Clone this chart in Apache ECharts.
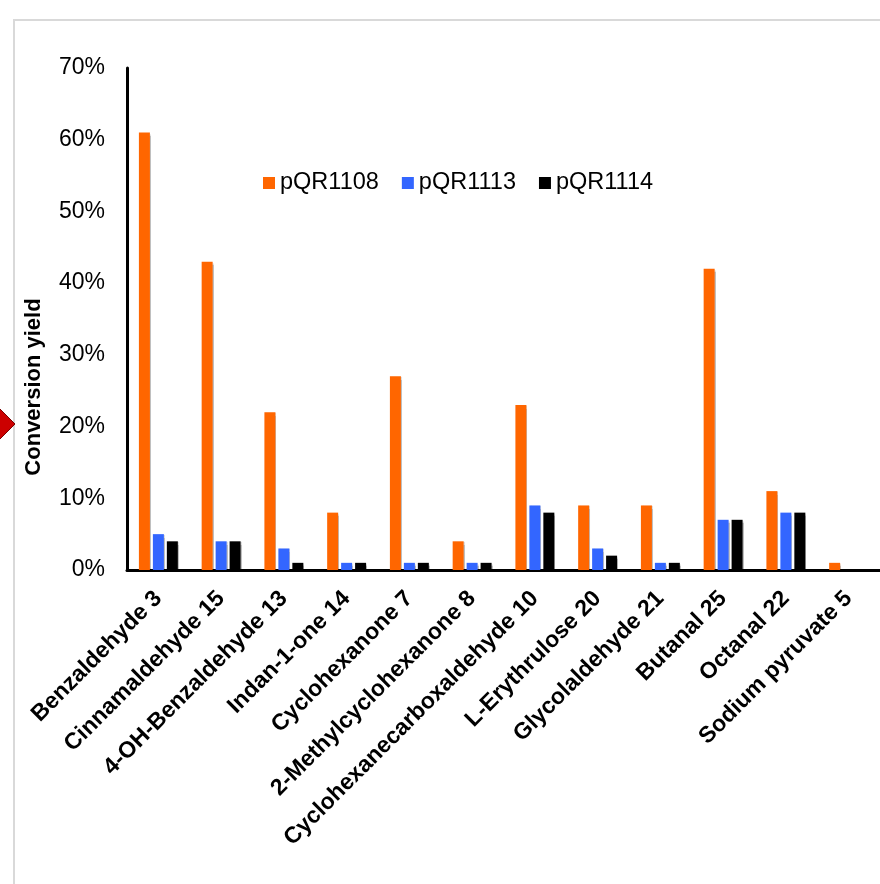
<!DOCTYPE html>
<html>
<head>
<meta charset="utf-8">
<title>Conversion yield</title>
<script src="https://cdn.jsdelivr.net/npm/echarts@6/dist/echarts.min.js"></script>
<style>
  html, body { margin: 0; padding: 0; background: #fff; }
  #chart { width: 880px; height: 884px; }
</style>
</head>
<body>
<div id="chart"></div>
<script>
// Substrates screened
const substrates = [
  'Benzaldehyde 3', 'Cinnamaldehyde 15', '4-OH-Benzaldehyde 13', 'Indan-1-one 14',
  'Cyclohexanone 7', '2-Methylcyclohexanone 8', 'Cyclohexanecarboxaldehyde 10',
  'L-Erythrulose 20', 'Glycolaldehyde 21', 'Butanal 25', 'Octanal 22', 'Sodium pyruvate 5'
];

// Conversion yield (%) per plasmid
const pQR1108 = [61, 43, 22, 8, 27, 4, 23, 9, 9, 42, 11, 1];
const pQR1113 = [5, 4, 3, 1, 1, 1, 9, 3, 1, 7, 8, 0];
const pQR1114 = [4, 4, 1, 1, 1, 1, 8, 2, 1, 7, 8, 0];

const seriesNames = ['pQR1108', 'pQR1113', 'pQR1114'];
const seriesColors = ['#FF6600', '#3366FF', '#000000'];
const seriesData = [pQR1108, pQR1113, pQR1114];

// Y-axis range (%)
const yMin = 0, yMax = 70, yStep = 10;

const FONT = '"Liberation Sans", Arial, sans-serif';

const chart = echarts.init(document.getElementById('chart'));

chart.setOption({
  animation: false,
  backgroundColor: '#ffffff',
  grid: { left: 127, top: 68, bottom: 314, width: 765, containLabel: false },
  legend: {
    data: seriesNames,
    left: 258,
    top: 166,
    itemWidth: 12,
    itemHeight: 12,
    itemGap: 23,
    icon: 'rect',
    textStyle: { fontFamily: FONT, fontSize: 23.5, color: '#000' }
  },
  xAxis: {
    type: 'category',
    data: substrates,
    axisLine: { lineStyle: { color: '#000', width: 3 } },
    axisTick: { show: false },
    axisLabel: {
      interval: 0,
      rotate: 45,
      margin: 25,
      fontFamily: FONT,
      fontWeight: 'bold',
      fontSize: 23,
      color: '#000'
    }
  },
  yAxis: {
    type: 'value',
    min: yMin,
    max: yMax,
    interval: yStep,
    splitLine: { show: false },
    axisLine: { show: true, lineStyle: { color: '#000', width: 3 } },
    axisTick: { show: false },
    axisLabel: {
      formatter: '{value}%',
      margin: 22,
      fontFamily: FONT,
      fontSize: 23,
      color: '#000'
    }
  },
  series: seriesNames.map((name, i) => ({
    name: name,
    type: 'bar',
    data: seriesData[i],
    barWidth: 11,
    barGap: '27%',
    itemStyle: {
      color: seriesColors[i],
      shadowColor: 'rgba(0,0,0,0.25)',
      shadowOffsetX: 1,
      shadowOffsetY: 1,
      shadowBlur: 1
    }
  })),
  graphic: [
    // Frame lines
    {
      type: 'polyline',
      silent: true,
      z: -1,
      shape: { points: [[14, 884], [14, 20], [880, 20]] },
      style: { stroke: '#d9d9d9', lineWidth: 2, fill: null }
    },
    // Marker on the left edge
    {
      type: 'polygon',
      silent: true,
      shape: { points: [[-23, 424], [-4, 405], [15, 424], [-4, 443]] },
      style: { fill: '#cc0000', stroke: '#7a0000', lineWidth: 1 }
    },
    // Y-axis title
    {
      type: 'text',
      silent: true,
      x: 34,
      y: 387,
      rotation: Math.PI / 2,
      style: {
        text: 'Conversion yield',
        font: 'bold 22px ' + FONT,
        fill: '#000',
        textAlign: 'center',
        textVerticalAlign: 'middle'
      }
    }
  ]
});
</script>
</body>
</html>
